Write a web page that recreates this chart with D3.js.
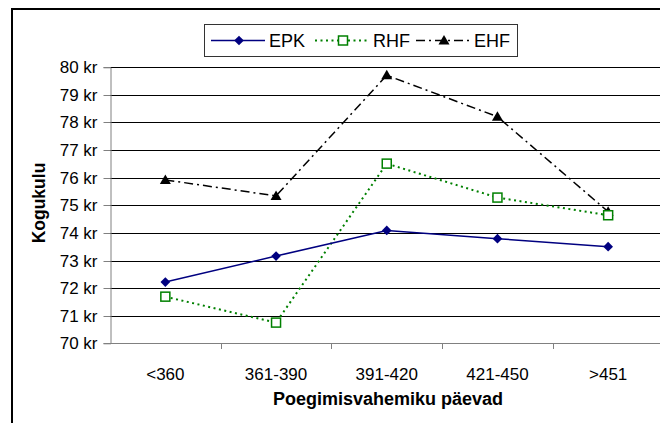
<!DOCTYPE html>
<html>
<head>
<meta charset="utf-8">
<script src="https://cdn.jsdelivr.net/npm/d3@7"></script>
<style>
  html, body { margin: 0; padding: 0; background: #fff; }
  svg { display: block; }
  text { font-family: "Liberation Sans", Arial, sans-serif; fill: #000; }
</style>
</head>
<body>
<svg id="chart" width="660" height="423"></svg>
<script>
const categories = ["<360", "361-390", "391-420", "421-450", ">451"];
const epk = [72.22, 73.16, 74.09, 73.79, 73.50];
const rhf = [71.69, 70.75, 76.51, 75.28, 74.64];
const ehf = [75.92, 75.34, 79.71, 78.21, 74.77];
const yTicks = [70, 71, 72, 73, 74, 75, 76, 77, 78, 79, 80];
const seriesNames = ["EPK", "RHF", "EHF"];
const yTitle = "Kogukulu";
const xTitle = "Poegimisvahemiku päevad";

(function () {
const svg = d3.select("#chart");

// outer chart border
svg.append("rect").attr("x", 12).attr("y", 9).attr("width", 700).attr("height", 450)
  .attr("fill", "#fff").attr("stroke", "#000").attr("stroke-width", 2);

const pL = 110, pR = 663.5, pT = 67.3, pB = 343.3;
const x = d3.scalePoint().domain(categories).range([pL, pR]).padding(0.5);
const xb = d3.scaleBand().domain(categories).range([pL, pR]);
const y = d3.scaleLinear().domain([70, 80]).range([pB, pT]);

// gridlines
svg.append("g").selectAll("line").data(yTicks.slice(1)).join("line")
  .attr("x1", pL).attr("x2", 660)
  .attr("y1", d => Math.round(y(d)) + 0.5).attr("y2", d => Math.round(y(d)) + 0.5)
  .attr("stroke", "#000").attr("stroke-width", 1);

// y axis
const yAxis = svg.append("g").attr("transform", `translate(${pL + 0.5},0)`)
  .call(d3.axisLeft(y).tickValues(yTicks).tickSize(7).tickPadding(6).tickFormat(d => d + " kr"));
yAxis.select(".domain").attr("stroke", "#808080");
yAxis.selectAll(".tick line").attr("stroke", "#808080");
yAxis.selectAll(".tick").attr("transform", d => `translate(0,${Math.round(y(d)) + 0.5})`);
yAxis.selectAll("text").attr("font-size", 17).attr("font-family", "Liberation Sans, Arial").attr("fill", "#000");

// x axis
const xAxis = svg.append("g").attr("transform", `translate(0,${Math.round(pB) + 0.5})`)
  .call(d3.axisBottom(xb).tickSize(0).tickPadding(24));
xAxis.select(".domain").attr("stroke", "#808080").attr("d", `M${pL},0H660`);
xAxis.selectAll("text").attr("font-size", 17).attr("font-family", "Liberation Sans, Arial").attr("fill", "#000");
svg.append("g").selectAll("line").data(categories.slice(1)).join("line")
  .attr("x1", d => Math.round(xb(d)) + 0.5).attr("x2", d => Math.round(xb(d)) + 0.5)
  .attr("y1", Math.round(pB)).attr("y2", Math.round(pB) + 6)
  .attr("stroke", "#808080");

// axis titles
svg.append("text").attr("transform", "translate(45,203) rotate(-90)")
  .attr("text-anchor", "middle").attr("font-weight", "bold").attr("font-size", 17.5).text(yTitle);
svg.append("text").attr("x", 388).attr("y", 405)
  .attr("text-anchor", "middle").attr("font-weight", "bold").attr("font-size", 18).text(xTitle);

const styles = [
  { data: epk, color: "#000080", dash: null, width: 1.5, marker: "diamond" },
  { data: rhf, color: "#008000", dash: "2,3.5", width: 2, marker: "square" },
  { data: ehf, color: "#000000", dash: "9,4,2,4", width: 1.5, marker: "triangle" }
];

const line = d3.line().x((d, i) => x(categories[i])).y(d => y(d));

function drawMarker(g, type, cx, cy, color) {
  if (type === "diamond") {
    g.append("path").attr("d", d3.symbol().type(d3.symbolDiamond2).size(60)())
      .attr("transform", `translate(${cx},${cy})`).attr("fill", color);
  } else if (type === "square") {
    g.append("rect").attr("x", cx - 4.5).attr("y", cy - 4.5).attr("width", 9).attr("height", 9)
      .attr("fill", "#fff").attr("stroke", color).attr("stroke-width", 1.5);
  } else {
    g.append("path").attr("d", `M${cx},${cy - 5.5}L${cx + 5.5},${cy + 4}L${cx - 5.5},${cy + 4}Z`)
      .attr("fill", color);
  }
}

const order = [2, 1, 0];
order.forEach(k => {
  const s = styles[k];
  const g = svg.append("g");
  g.append("path").attr("d", line(s.data)).attr("fill", "none")
    .attr("stroke", s.color).attr("stroke-width", s.width)
    .attr("stroke-dasharray", s.dash);
  s.data.forEach((v, i) => drawMarker(g, s.marker, x(categories[i]), y(v), s.color));
});

// legend
const lg = svg.append("g");
lg.append("rect").attr("x", 204.5).attr("y", 24.5).attr("width", 313).attr("height", 32)
  .attr("fill", "#fff").attr("stroke", "#333").attr("stroke-width", 1);
const legendX = [211, 315, 416];
seriesNames.forEach((name, k) => {
  const s = styles[k];
  const lx = legendX[k], ly = 40.5;
  lg.append("line").attr("x1", lx).attr("x2", lx + 54).attr("y1", ly).attr("y2", ly)
    .attr("stroke", s.color).attr("stroke-width", s.width).attr("stroke-dasharray", s.dash);
  drawMarker(lg, s.marker, lx + 28, ly, s.color);
  lg.append("text").attr("x", lx + 58).attr("y", ly + 6.5).attr("font-size", 18).text(name);
});
})();
</script>
</body>
</html>
